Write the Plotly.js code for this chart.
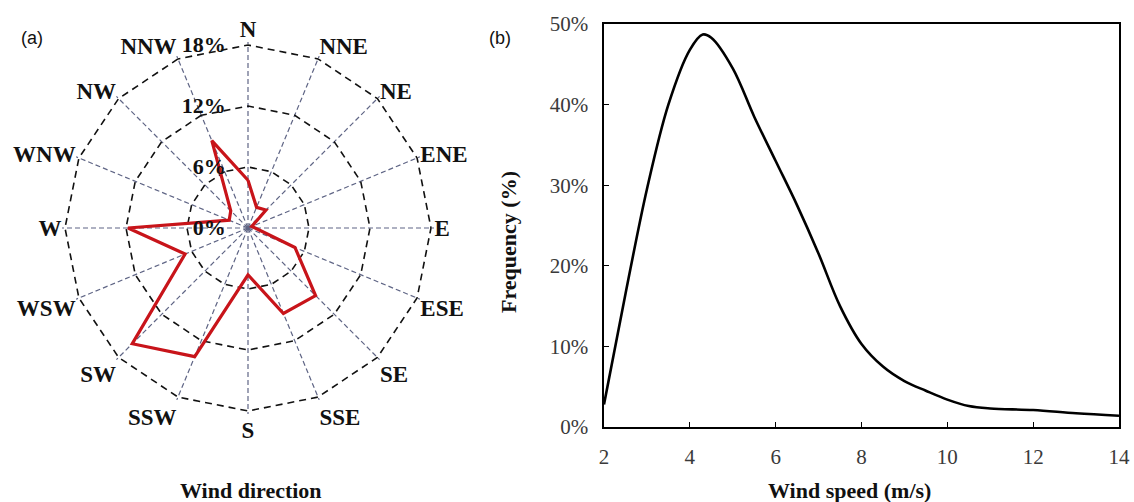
<!DOCTYPE html>
<html>
<head>
<meta charset="utf-8">
<script src="https://cdn.plot.ly/plotly-3.0.1.min.js"></script>
<style>html,body{margin:0;padding:0;background:#fff;}#chart{width:1134px;height:502px;}</style>
</head>
<body>
<div id="chart"></div>
<script>
// Wind direction frequency (%)
const directions = ["N","NNE","NE","ENE","E","ESE","SE","SSE","S","SSW","SW","WSW","W","WNW","NW","NNW"];
const directionFreq = [4.7, 2.2, 2.5, 0.4, 0.7, 5.0, 9.4, 9.1, 4.6, 13.7, 16.1, 6.7, 11.8, 2.0, 2.4, 9.3];
const radialTicks = [0, 6, 12, 18];
const radialTickText = ["0%", "6%", "12%", "18%"];

// Wind speed distribution
const windSpeed = [2, 2.5, 3, 3.5, 4, 4.3, 4.5, 5, 5.5, 6, 6.5, 7, 7.5, 8, 8.5, 9, 9.5, 10, 10.5, 11, 12, 13, 14];
const speedFreq = [2.8, 16.5, 29.5, 40, 46.8, 48.7, 48.3, 44.5, 38.5, 33, 27.5, 21.5, 15, 10.3, 7.5, 5.7, 4.5, 3.4, 2.6, 2.3, 2.1, 1.7, 1.4];
const yTicks = [0, 10, 20, 30, 40, 50];
const yTickText = ["0%", "10%", "20%", "30%", "40%", "50%"];
const xTicks = [2, 4, 6, 8, 10, 12, 14];

const serif = "Liberation Serif, Times New Roman, serif";
const sans = "Liberation Sans, Arial, sans-serif";

const rMax = 18.3;
const R = 183 * rMax / 18;   // pixel radius of the polar frame
const cx = 248, cy = 228;

const traces = [
  {
    type: "scatterpolar",
    r: directionFreq.concat([directionFreq[0]]),
    theta: directions.concat([directions[0]]),
    mode: "lines",
    line: {color: "#c8141a", width: 3.2},
    subplot: "polar",
    showlegend: false,
    hoverinfo: "skip"
  },
  {
    type: "scatter",
    x: windSpeed,
    y: speedFreq,
    mode: "lines",
    line: {color: "#000", width: 2.6, shape: "spline", smoothing: 1},
    xaxis: "x",
    yaxis: "y",
    showlegend: false
  }
];

const layout = {
  width: 1134,
  height: 502,
  margin: {l: 0, r: 0, t: 0, b: 0},
  paper_bgcolor: "#fff",
  plot_bgcolor: "#fff",
  showlegend: false,
  polar: {
    domain: {x: [(cx - R)/1134, (cx + R)/1134], y: [(502 - cy - R)/502, (502 - cy + R)/502]},
    bgcolor: "rgba(0,0,0,0)",
    gridshape: "linear",
    angularaxis: {
      type: "category",
      categoryarray: directions,
      direction: "clockwise",
      rotation: 90,
      showline: false,
      ticks: "",
      showgrid: true,
      gridcolor: "#5f6585",
      gridwidth: 1.2,
      griddash: "5px,3px",
      tickfont: {family: serif, size: 23, color: "#111", weight: "bold"}
    },
    radialaxis: {
      range: [0, rMax],
      angle: 90,
      side: "counterclockwise",
      tickvals: radialTicks,
      ticktext: radialTickText,
      showline: false,
      ticks: "outside",
      ticklen: 14,
      tickcolor: "rgba(0,0,0,0)",
      showgrid: true,
      gridcolor: "#111",
      gridwidth: 1.6,
      griddash: "7px,5px",
      tickangle: 90,
      tickfont: {family: serif, size: 22, color: "#111", weight: "bold"}
    }
  },
  xaxis: {
    domain: [604/1134, 1119/1134],
    range: [2, 14],
    tickvals: xTicks,
    ticks: "inside",
    ticklen: 5,
    tickcolor: "#000",
    ticklabelstandoff: 10,
    showline: true,
    linecolor: "#000",
    linewidth: 1.6,
    mirror: true,
    showgrid: false,
    zeroline: false,
    tickfont: {family: serif, size: 21, color: "#3a3a3a"},
    anchor: "y"
  },
  yaxis: {
    domain: [75/502, 478/502],
    range: [0, 50],
    tickvals: yTicks,
    ticktext: yTickText,
    ticks: "inside",
    ticklen: 5,
    tickcolor: "#000",
    ticklabelstandoff: 10,
    showline: true,
    linecolor: "#000",
    linewidth: 1.6,
    mirror: true,
    showgrid: false,
    zeroline: false,
    tickfont: {family: serif, size: 21, color: "#3a3a3a"},
    anchor: "x"
  },
  annotations: [
    {text: "(a)", x: 32/1134, y: 1 - 38/502, xref: "paper", yref: "paper", xanchor: "center", yanchor: "middle", showarrow: false, font: {family: sans, size: 18, color: "#111"}},
    {text: "(b)", x: 500/1134, y: 1 - 38/502, xref: "paper", yref: "paper", xanchor: "center", yanchor: "middle", showarrow: false, font: {family: sans, size: 18, color: "#111"}},
    {text: "Wind direction", x: 251/1134, y: 1 - 490/502, xref: "paper", yref: "paper", xanchor: "center", yanchor: "middle", showarrow: false, font: {family: serif, size: 22, color: "#111", weight: "bold"}},
    {text: "Wind speed (m/s)", x: 849/1134, y: 1 - 490/502, xref: "paper", yref: "paper", xanchor: "center", yanchor: "middle", showarrow: false, font: {family: serif, size: 22, color: "#111", weight: "bold"}},
    {text: "Frequency (%)", x: 508/1134, y: 1 - 242/502, xref: "paper", yref: "paper", xanchor: "center", yanchor: "middle", showarrow: false, textangle: -90, font: {family: serif, size: 22, color: "#111", weight: "bold"}}
  ]
};

Plotly.newPlot("chart", traces, layout, {displayModeBar: false, staticPlot: true});
</script>
</body>
</html>
